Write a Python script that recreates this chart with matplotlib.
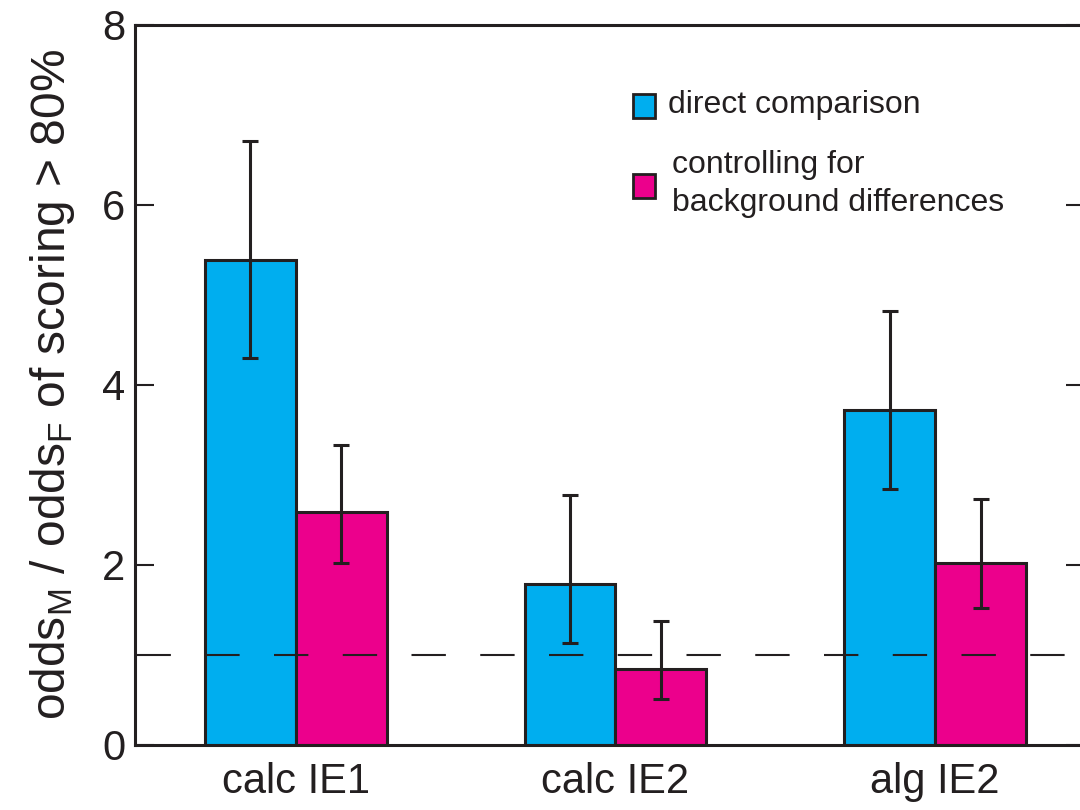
import numpy as np
import matplotlib
matplotlib.use("Agg")
import matplotlib.pyplot as plt
from matplotlib.patches import Rectangle

plt.rcParams['font.family'] = ['Liberation Sans', 'DejaVu Sans']
plt.rcParams['mathtext.default'] = 'regular'

# dados
categories = ["calc IE1", "calc IE2", "alg IE2"]
direct = [5.39, 1.79, 3.72]
direct_lo = [4.30, 1.13, 2.84]
direct_hi = [6.71, 2.78, 4.82]
controlled = [2.59, 0.84, 2.02]
controlled_lo = [2.02, 0.51, 1.52]
controlled_hi = [3.33, 1.38, 2.73]

blue = "#00AEEF"
pink = "#EC008C"
dark = "#231F20"

fig = plt.figure(figsize=(10.8, 8.1), dpi=100)
ax = fig.add_axes([135 / 1080, 65 / 810, 950 / 1080, 720 / 810])

x = np.arange(1, len(categories) + 1)
w = 0.284

ax.bar(x - w / 2, direct, w, color=blue, edgecolor=dark, linewidth=2.2, zorder=2)
ax.bar(x + w / 2, controlled, w, color=pink, edgecolor=dark, linewidth=2.2, zorder=2)

# barras de erro
err_d = [np.array(direct) - np.array(direct_lo), np.array(direct_hi) - np.array(direct)]
err_c = [np.array(controlled) - np.array(controlled_lo), np.array(controlled_hi) - np.array(controlled)]
ax.errorbar(x - w / 2, direct, yerr=err_d, fmt='none', ecolor=dark, elinewidth=2.2,
            capsize=5.8, capthick=2.2, zorder=4)
ax.errorbar(x + w / 2, controlled, yerr=err_c, fmt='none', ecolor=dark, elinewidth=2.2,
            capsize=5.8, capthick=2.2, zorder=4)

# linha de referência em 1
line, = ax.plot([0, 5], [1, 1], color=dark, linewidth=1.5, zorder=3)
line.set_dashes((16.5, 16.5))

ax.set_xlim(1 - 161 / 320, 3 + 150 / 320)
ax.set_ylim(0, 8)
ax.set_yticks([0, 2, 4, 6, 8])
ax.set_xticks(x)
ax.set_xticklabels(categories)

ax.tick_params(axis='y', direction='in', length=14, width=1.5, color=dark,
               labelsize=30, pad=7, right=True, labelcolor=dark)
ax.tick_params(axis='x', length=0, labelsize=30, pad=12, labelcolor=dark)
for s in ax.spines.values():
    s.set_linewidth(2.2)
    s.set_color(dark)

ax.set_ylabel("odds$_{M}$ / odds$_{F}$ of scoring > 80%", fontsize=34.5, color=dark, labelpad=18)

# legenda manual
ax.add_patch(Rectangle((0.524, 0.871), 0.023, 0.033, transform=ax.transAxes,
                       facecolor=blue, edgecolor=dark, linewidth=2, zorder=5))
ax.add_patch(Rectangle((0.524, 0.760), 0.023, 0.033, transform=ax.transAxes,
                       facecolor=pink, edgecolor=dark, linewidth=2, zorder=5))
ax.text(0.561, 0.889, "direct comparison", transform=ax.transAxes, fontsize=23,
        va='center', ha='left', color=dark)
ax.text(0.565, 0.779, "controlling for\nbackground differences", transform=ax.transAxes,
        fontsize=23, va='center', ha='left', color=dark, linespacing=1.32)

fig.savefig("out.png", dpi=100)
